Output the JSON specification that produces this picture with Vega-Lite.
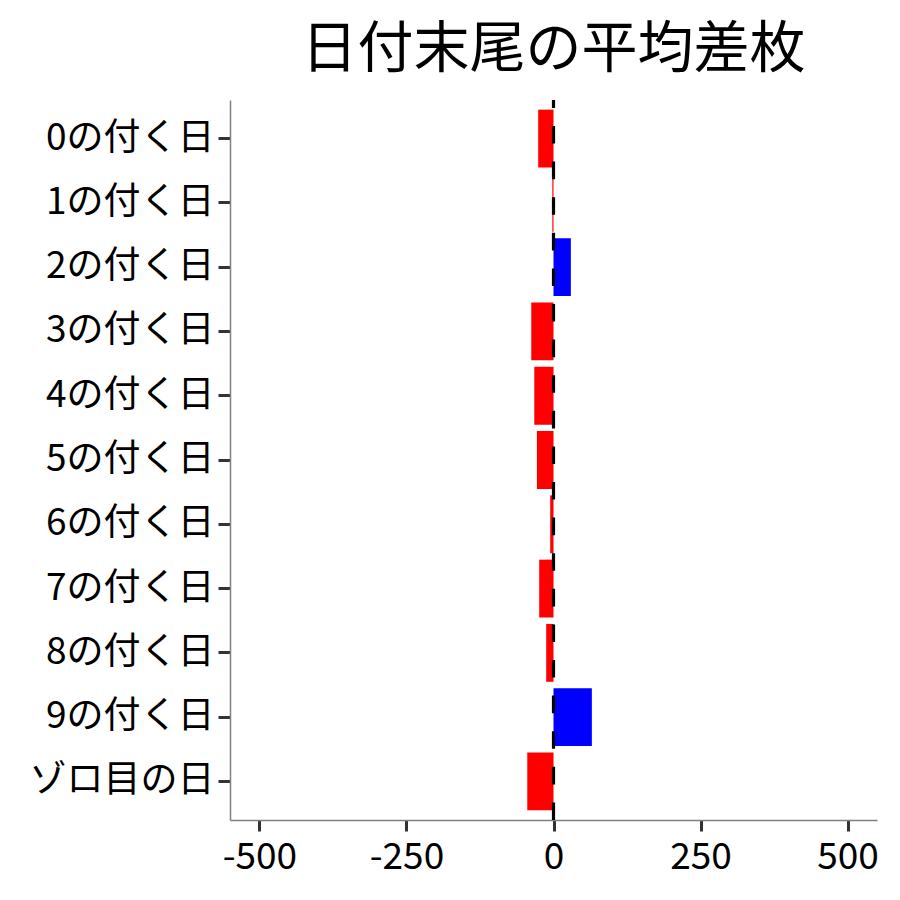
{
  "$schema": "https://vega.github.io/schema/vega-lite/v6.json",
  "autosize": {"type": "none"},
  "padding": {"left": 230, "top": 100, "right": 23, "bottom": 80},
  "width": 647,
  "height": 720,
  "background": "white",
  "config": {
    "view": {"stroke": null},
    "font": "Noto Sans CJK JP"
  },
  "title": {
    "text": "日付末尾の平均差枚",
    "font": "Noto Sans CJK JP",
    "fontSize": 56,
    "fontWeight": "normal",
    "color": "black",
    "anchor": "middle",
    "frame": "group",
    "baseline": "alphabetic",
    "offset": 30,
    "dy": 55
  },
  "data": {
    "values": [
      {"label": "0の付く日", "value": -26},
      {"label": "1の付く日", "value": -2},
      {"label": "2の付く日", "value": 29.5},
      {"label": "3の付く日", "value": -37.8},
      {"label": "4の付く日", "value": -32.7},
      {"label": "5の付く日", "value": -28.2},
      {"label": "6の付く日", "value": -5.6},
      {"label": "7の付く日", "value": -24.3},
      {"label": "8の付く日", "value": -12.4},
      {"label": "9の付く日", "value": 65.2},
      {"label": "ゾロ目の日", "value": -44.6}
    ]
  },
  "layer": [
    {
      "mark": {"type": "bar"},
      "encoding": {
        "y": {
          "field": "label",
          "type": "nominal",
          "sort": null,
          "scale": {"paddingInner": 0.1, "paddingOuter": 0.15},
          "axis": {
            "title": null,
            "labelFont": "Noto Sans CJK JP",
            "labelFontSize": 37,
            "labelLimit": 400,
            "labelColor": "black",
            "labelPadding": 4,
            "tickSize": 12,
            "tickWidth": 3,
            "tickColor": "#333333",
            "domainColor": "#808080",
            "domainWidth": 1.5,
            "grid": false
          }
        },
        "x": {
          "field": "value",
          "type": "quantitative",
          "scale": {"domain": [-550, 550], "nice": false, "zero": false},
          "axis": {
            "title": null,
            "values": [-500, -250, 0, 250, 500],
            "labelExpr": "'' + datum.value",
            "labelFont": "Noto Sans CJK JP",
            "labelFontSize": 37,
            "labelColor": "black",
            "labelPadding": 8,
            "tickSize": 11,
            "tickWidth": 3,
            "tickColor": "#333333",
            "domainColor": "#808080",
            "domainWidth": 1.5,
            "grid": false
          }
        },
        "color": {
          "condition": {"test": "datum.value > 0", "value": "#0000FF"},
          "value": "#FF0000"
        }
      }
    },
    {
      "data": {"values": [{"zero": 0}]},
      "mark": {"type": "rule", "color": "black", "strokeWidth": 3.2, "strokeDash": [17.6, 18]},
      "encoding": {
        "x": {"field": "zero", "type": "quantitative"},
        "y": {"value": "height"},
        "y2": {"value": 0}
      }
    }
  ]
}
